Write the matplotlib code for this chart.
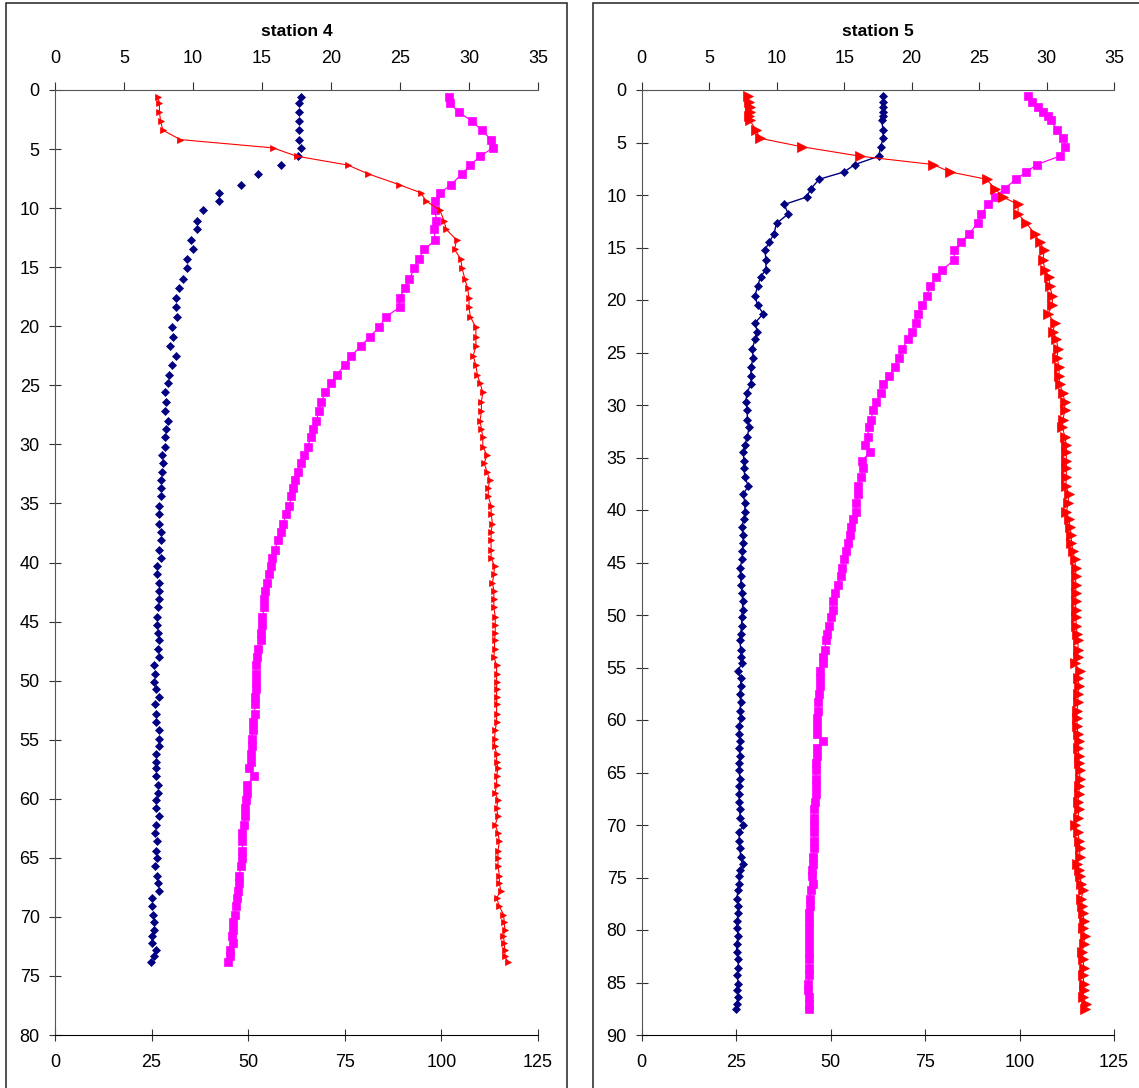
import matplotlib
matplotlib.use("Agg")
import matplotlib.pyplot as plt
from matplotlib.patches import Rectangle

plt.rcParams['font.family'] = ['Liberation Sans', 'DejaVu Sans']

# station 4: depth (m), temperature and salinity (top axis), oxygen % (bottom axis)
depth4 = [0.6, 1.1, 1.9, 2.6, 3.4, 4.2, 4.9, 5.6, 6.35, 7.1, 8.0, 8.7, 9.4, 10.2,
          11.1, 11.8, 12.7, 13.5, 14.3, 15.1, 16.0, 16.8, 17.6, 18.4, 19.2, 20.1, 20.9,
          21.7, 22.5, 23.3, 24.1, 24.8, 25.6, 26.4, 27.2, 28.0, 28.7, 29.4, 30.2, 30.9,
          31.6, 32.3, 33.0, 33.7, 34.4, 35.2, 35.9, 36.7, 37.4, 38.1, 38.9, 39.6, 40.3,
          41.0, 41.7, 42.4, 43.1, 43.8, 44.6, 45.3, 46.0, 46.6, 47.3, 48.0,
          48.7, 49.4, 50.1, 50.7, 51.4, 52.0, 52.8, 53.5, 54.2, 54.9, 55.5, 56.2, 56.9,
          57.4, 58.1, 58.8, 59.5, 60.1, 60.8, 61.5, 62.2, 62.9, 63.6, 64.4, 65.0, 65.7,
          66.5, 67.1, 67.8, 68.4, 69.1, 69.8, 70.4, 71.1, 71.6, 72.2, 72.8, 73.3, 73.8]
temp4 = [17.8, 17.7, 17.7, 17.7, 17.65, 17.7, 17.8, 17.6, 16.4, 14.7, 13.5, 11.9, 11.9,
         10.7, 10.3, 10.3, 9.85, 10.0, 9.6, 9.55, 9.26, 9.0, 8.76, 8.76, 8.85, 8.47, 8.56,
         8.35, 8.78, 8.47, 8.25, 8.18, 7.94, 8.06, 7.94, 8.18, 8.06, 7.94, 7.94, 7.77,
         7.85, 7.75, 7.65, 7.65, 7.65, 7.5, 7.55, 7.55, 7.65, 7.65, 7.55, 7.65, 7.38,
         7.38, 7.5, 7.5, 7.5, 7.45, 7.38, 7.38, 7.45, 7.5, 7.45, 7.57,
         7.21, 7.28, 7.21, 7.33, 7.5, 7.28, 7.33, 7.33, 7.5, 7.57, 7.57, 7.33, 7.33,
         7.33, 7.33, 7.45, 7.45, 7.33, 7.33, 7.57, 7.33, 7.28, 7.38, 7.33, 7.38, 7.28,
         7.38, 7.45, 7.5, 7.04, 7.04, 7.09, 7.14, 7.14, 7.04, 7.04, 7.33, 7.14, 6.97]
sal4 = [7.45, 7.57, 7.57, 7.65, 7.81, 9.09, 15.8, 17.5, 21.2, 22.7, 24.9, 26.5, 26.9,
        27.9, 28.2, 28.35, 29.1, 28.95, 29.4, 29.5, 29.7, 29.9, 30.0, 30.0, 30.1, 30.5, 30.5,
        30.5, 30.3, 30.5, 30.6, 30.8, 31.0, 30.9, 30.9, 30.8, 30.9, 31.0, 31.0, 31.3,
        31.1, 31.3, 31.5, 31.4, 31.4, 31.6, 31.6, 31.7, 31.6, 31.6, 31.6, 31.6, 31.85,
        31.8, 31.7, 31.8, 31.8, 31.8, 31.9, 31.9, 31.9, 31.85, 31.85, 31.8,
        32.0, 32.0, 32.0, 32.0, 32.0, 32.0, 32.0, 32.0, 31.9, 31.85, 31.85, 32.0, 32.0,
        32.1, 32.0, 32.0, 31.9, 32.1, 32.0, 32.1, 31.9, 32.1, 32.2, 32.1, 32.1, 32.1,
        32.2, 32.2, 32.3, 32.0, 32.2, 32.5, 32.55, 32.6, 32.5, 32.55, 32.6, 32.6, 32.8]
oxy4 = [101.9, 102.1, 104.6, 107.8, 110.4, 112.9, 113.3, 110.1, 107.5, 105.3, 102.6,
        99.7, 98.4, 98.4, 98.7, 98.0, 98.4, 95.6, 94.1, 93.0, 91.7, 90.5, 89.2, 89.2,
        85.6, 83.9, 81.4,
        79.1, 76.7, 75.0, 72.9, 71.4, 70.0, 68.9, 68.3, 67.6, 66.8, 66.2, 65.4, 64.5,
        63.7, 62.8, 62.2, 61.5, 61.2, 60.6, 59.8, 59.1, 58.4, 57.6, 57.0, 56.2, 55.9,
        55.4, 54.8, 54.4, 54.1, 54.1, 53.7, 53.7, 53.4, 53.4, 52.6, 52.3,
        52.0, 52.0, 52.0, 52.0, 51.7, 51.7, 51.7, 51.3, 51.3, 50.9, 50.9, 50.6, 50.6,
        50.3, 51.5, 49.7, 49.7, 49.4, 49.2, 49.2, 48.9, 48.5, 48.5, 48.5, 48.3, 48.1,
        47.7, 47.7, 47.4, 47.0, 46.8, 46.6, 46.1, 45.95, 45.7, 45.95, 45.25, 45.25, 44.8]

# station 5
depth5 = [0.6, 1.1, 1.6, 2.1, 2.5, 2.9, 3.8, 4.6, 5.4, 6.3, 7.1, 7.8, 8.5, 9.4, 10.2,
          10.9, 11.8, 12.7, 13.7, 14.5, 15.2, 16.2, 17.1, 17.8, 18.7, 19.6, 20.5, 21.3,
          22.2, 23.0, 23.7,
          24.7, 25.5, 26.4, 27.2, 28.0, 28.9, 29.7, 30.5, 31.4, 32.1, 33.0, 33.8, 34.5,
          35.3, 36.0, 36.9, 37.7, 38.5, 39.3, 40.2, 40.9, 41.6, 42.4, 43.1, 43.9, 44.7,
          45.5, 46.3, 47.1, 47.9, 48.7, 49.5, 50.2, 51.0, 51.8, 52.4, 53.3, 54.0,
          54.6, 55.3, 56.0, 56.8, 57.5, 58.3, 59.1, 59.8, 60.6, 61.3, 62.0, 62.7, 63.4,
          64.1, 64.8, 65.6, 66.3, 67.0, 67.8, 68.5, 69.3, 70.0, 70.7, 71.5, 72.2, 73.0,
          73.7, 74.3, 74.9, 75.6, 76.2, 77.0, 77.7, 78.4, 79.1, 79.8, 80.6, 81.3, 82.1,
          82.8, 83.6, 84.3, 85.1, 85.7, 86.4, 87.0, 87.5]
temp5 = [17.89, 17.89, 17.89, 17.89, 17.89, 17.77, 17.89, 17.89, 17.7, 17.57, 15.79,
         15.0, 13.15, 12.53, 12.21, 10.56, 10.85, 9.99, 9.79, 9.45, 9.13, 9.2, 9.2, 8.8,
         8.58, 8.39, 8.58, 9.0, 8.39, 8.56, 8.39,
         8.19, 8.26, 8.09, 8.09, 8.09, 7.77, 7.72, 7.82, 7.82, 7.96, 7.82, 7.64, 7.52,
         7.57, 7.57, 7.64, 7.89, 7.52, 7.64, 7.64, 7.57, 7.4, 7.52, 7.52, 7.45, 7.45,
         7.27, 7.33, 7.35, 7.45, 7.47, 7.47, 7.4, 7.4, 7.33, 7.27, 7.33, 7.33,
         7.4, 7.15, 7.33, 7.33, 7.27, 7.33, 7.27, 7.33, 7.22, 7.22, 7.27, 7.22, 7.27,
         7.22, 7.22, 7.27, 7.22, 7.22, 7.22, 7.27, 7.27, 7.52, 7.22, 7.22, 7.27, 7.33,
         7.47, 7.27, 7.22, 7.22, 7.15, 7.03, 7.15, 7.15, 7.07, 7.07, 7.15, 7.03, 7.03,
         7.15, 7.15, 7.07, 7.15, 7.07, 7.15, 7.03, 6.98]
sal5 = [7.89, 7.96, 8.01, 8.01, 7.96, 8.01, 8.46, 8.76, 11.84, 16.16, 21.6, 22.83, 25.55,
        26.16, 26.78, 27.89, 27.89, 28.51, 29.13, 29.5, 29.82, 29.74, 29.87, 30.19, 30.24,
        30.43, 30.43, 30.11, 30.61, 30.48, 30.73,
        30.85, 30.78, 30.93, 30.93, 30.98, 31.22, 31.35, 31.35, 31.22, 31.18, 31.35,
        31.47, 31.47, 31.47, 31.47, 31.47, 31.42, 31.67, 31.59, 31.47, 31.67, 31.72,
        31.84, 31.84, 31.96, 32.09, 32.16, 32.16, 32.16, 32.16, 32.16, 32.16, 32.16,
        32.21, 32.26, 32.33, 32.33, 32.33,
        32.09, 32.46, 32.33, 32.41, 32.33, 32.33, 32.26, 32.26, 32.26, 32.33, 32.41,
        32.33, 32.41, 32.41, 32.46, 32.46, 32.41, 32.41, 32.33, 32.41, 32.33, 32.09,
        32.33, 32.41, 32.46, 32.46, 32.26, 32.41, 32.46, 32.58, 32.71, 32.58, 32.66,
        32.71, 32.76, 32.71, 32.83, 32.76, 32.66, 32.71, 32.76, 32.71, 32.76, 32.76,
        32.71, 32.9, 32.83]
oxy5 = [102.3, 103.3, 104.8, 106.2, 107.5, 108.3, 109.9, 111.5, 112.1, 110.6, 104.6,
        101.8, 99.0, 96.1, 93.4, 91.7, 89.9, 88.9, 86.6, 84.6, 82.7, 82.7, 79.6, 77.8,
        76.4, 75.4, 74.3, 73.2, 72.5, 71.4, 70.5,
        68.9, 68.0, 66.9, 65.5, 63.9, 63.3, 62.1, 61.1, 60.8, 60.1, 59.8, 59.0, 60.4,
        58.3, 58.6, 58.0, 57.3, 57.3, 56.8, 56.6, 56.0, 55.5, 55.1, 54.6, 54.0, 53.6,
        53.1, 52.6, 52.0, 51.1, 50.7, 50.5, 50.2, 49.5, 49.1, 48.7, 48.5, 48.0,
        47.9, 47.3, 47.1, 47.1, 47.0, 46.7, 46.7, 46.4, 46.3, 46.3, 47.9, 46.4, 46.3,
        46.1, 46.1, 46.1, 46.1, 46.1, 45.8, 45.6, 45.6, 45.6, 45.6, 45.6, 45.6, 45.4,
        45.4, 45.1, 45.1, 45.4, 44.7, 44.5, 44.5, 44.3, 44.3, 44.3, 44.3, 44.3, 44.3,
        44.3, 44.3, 44.3, 44.0, 43.9, 44.3, 44.3, 44.3]

W, H = 1139, 1088
fig = plt.figure(figsize=(W / 100, H / 100), dpi=100)


def px_rect(x0, x1, y0, y1):
    """Pixel box (top-left origin) to figure fraction rect."""
    return [x0 / W, 1 - y1 / H, (x1 - x0) / W, (y1 - y0) / H]


def draw_station(x0, x1, title, depth, temp, sal, oxy, ymax, tri_size, temp_line):
    ax = fig.add_axes(px_rect(x0, x1, 90, 1035))
    ax.plot(oxy, depth, color='#FF00FF', lw=0.9, marker='s', ms=5.2,
            mec='#FF00FF', mfc='#FF00FF', mew=0.5)
    ax.set_xlim(0, 125)
    ax.set_xticks(range(0, 126, 25))
    ax.set_ylim(ymax, 0)
    ax.set_yticks(range(0, ymax + 1, 5))
    for s in ['top', 'right']:
        ax.spines[s].set_visible(False)
    ax.spines['bottom'].set_color('black')
    ax.spines['left'].set_color('#555555')
    ax.tick_params(axis='x', direction='inout', length=9, width=0.8,
                   pad=9.5, labelsize=13, color='#333333')
    ax.tick_params(axis='y', direction='inout', length=8, width=0.8,
                   pad=7, labelsize=13, color='#333333')

    top = ax.twiny()
    top.plot(temp, depth, color='#000080', lw=1.0 if temp_line else 0,
             marker='D', ms=3.9, mec='#000080', mfc='#000080', mew=0.5)
    top.plot(sal, depth, color='#FF0000', lw=0.8, marker='>', ms=tri_size,
             mec='#FF0000', mfc='#FF0000', mew=0.5)
    top.set_xlim(0, 35)
    top.set_xticks(range(0, 36, 5))
    for s in ['bottom', 'left', 'right']:
        top.spines[s].set_visible(False)
    top.spines['top'].set_color('#555555')
    top.tick_params(axis='x', direction='out', length=5.5, width=0.8,
                    pad=11, labelsize=13, color='#333333')

    fig.text((x0 + x1) / 2 / W, 1 - 32 / H, title, ha='center', va='center',
             fontsize=12.5, fontweight='bold')


draw_station(55, 538, 'station 4', depth4, temp4, sal4, oxy4, 80, 4.2, False)
draw_station(641.8, 1114, 'station 5', depth5, temp5, sal5, oxy5, 90, 6.5, True)

# chart area borders
fig.patches.append(Rectangle((6 / W, -0.02), (567 - 6) / W, 1.02 - 3 / H,
                             transform=fig.transFigure, fill=False,
                             edgecolor='#222222', lw=1.1))
fig.patches.append(Rectangle((593 / W, -0.02), 0.6, 1.02 - 3 / H,
                             transform=fig.transFigure, fill=False,
                             edgecolor='#222222', lw=1.1))

fig.savefig('out.png', dpi=100)
